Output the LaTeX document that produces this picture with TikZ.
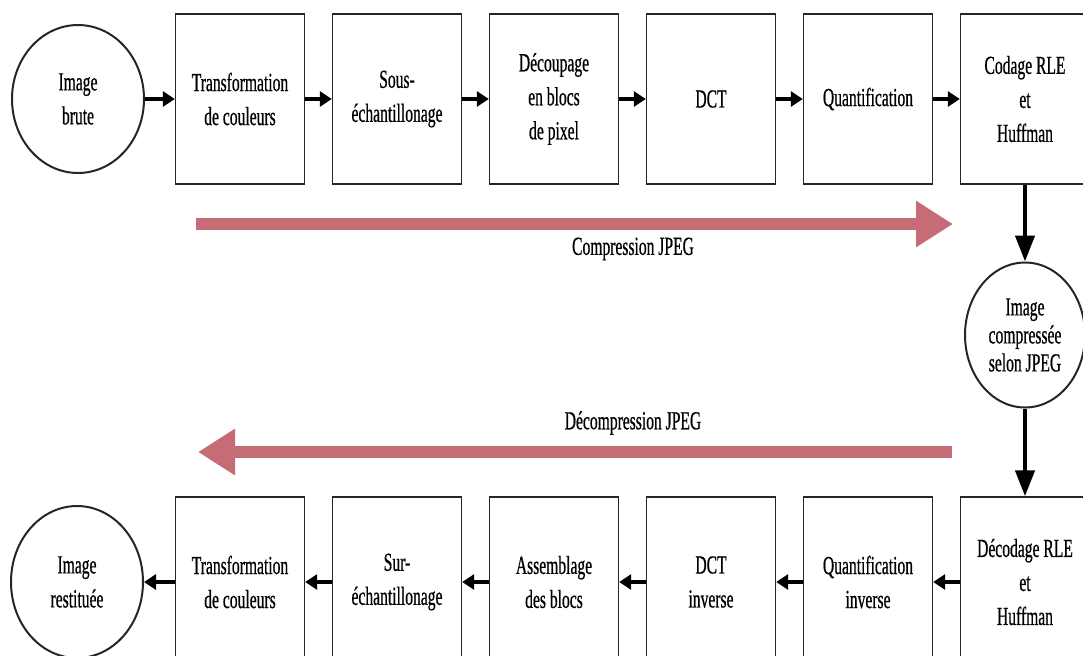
\documentclass[tikz,border=0pt]{standalone}
\usepackage{xcolor}
\usepackage{fontspec}
\setmainfont{Liberation Serif}[FakeStretch=0.6,FakeBold=0.6]
\usepackage{tikz}
\usetikzlibrary{shapes.geometric,arrows.meta}
\definecolor{rosearrow}{RGB}{198,108,118}

\begin{document}
\begin{tikzpicture}[x=0.5pt, y=-0.5pt,
    font=\fontsize{13}{17}\selectfont,
    stage/.style={draw=black!85, line width=0.7pt, minimum width=64.5pt, minimum height=85pt, align=center, inner sep=2pt},
    imgnode/.style={ellipse, draw=black!85, line width=1pt, minimum width=66pt, minimum height=74pt, align=center, inner sep=0pt},
    flow/.style={line width=2.2pt, -{Triangle[length=6pt,width=7.5pt]}},
    vflow/.style={line width=2.2pt, -{Triangle[length=13pt,width=9.5pt]}},
    bigarrow/.style={rosearrow, line width=6pt, -{Triangle[length=18.5pt,width=22pt]}}]
    \useasboundingbox (0,0) rectangle (1083,655);

    \node[imgnode] (brute) at (78,99) {Image\\brute};
    \node[stage] (tc) at (240,99) {Transformation\\de couleurs};
    \node[stage] (se) at (397,99) {Sous-\\échantillonage};
    \node[stage] (dp) at (554,99) {Découpage\\en blocs\\de pixel};
    \node[stage] (dct) at (711,99) {DCT};
    \node[stage] (qt) at (868,99) {Quantification};
    \node[stage] (cod) at (1025,99) {Codage RLE\\et\\Huffman};

    \node[imgnode, minimum width=60pt, minimum height=72.5pt, font=\fontsize{13}{14}\selectfont] (comp) at (1025,335) {Image\\compressée\\selon JPEG};

    \node[stage] (dec) at (1025,582) {Décodage RLE\\et\\Huffman};
    \node[stage] (qi) at (868,582) {Quantification\\inverse};
    \node[stage] (idct) at (711,582) {DCT\\inverse};
    \node[stage] (ab) at (554,582) {Assemblage\\des blocs};
    \node[stage] (us) at (397,582) {Sur-\\échantillonage};
    \node[stage] (itc) at (240,582) {Transformation\\de couleurs};
    \node[imgnode, minimum height=76pt] (rest) at (77,582) {Image\\restituée};

    \draw[flow] (brute.east) -- (tc.west);
    \draw[flow] (tc.east) -- (se.west);
    \draw[flow] (se.east) -- (dp.west);
    \draw[flow] (dp.east) -- (dct.west);
    \draw[flow] (dct.east) -- (qt.west);
    \draw[flow] (qt.east) -- (cod.west);
    \draw[vflow] (cod.south) -- (comp.north);
    \draw[vflow] (comp.south) -- (dec.north);
    \draw[flow] (dec.west) -- (qi.east);
    \draw[flow] (qi.west) -- (idct.east);
    \draw[flow] (idct.west) -- (ab.east);
    \draw[flow] (ab.west) -- (us.east);
    \draw[flow] (us.west) -- (itc.east);
    \draw[flow] (itc.west) -- (rest.east);

    \draw[bigarrow] (196,224) -- (953,224);
    \node (lcomp) at (633,249) {Compression JPEG};
    \draw[bigarrow] (952,452) -- (198,452);
    \node (ldecomp) at (633,423) {Décompression JPEG};
\end{tikzpicture}
\end{document}
